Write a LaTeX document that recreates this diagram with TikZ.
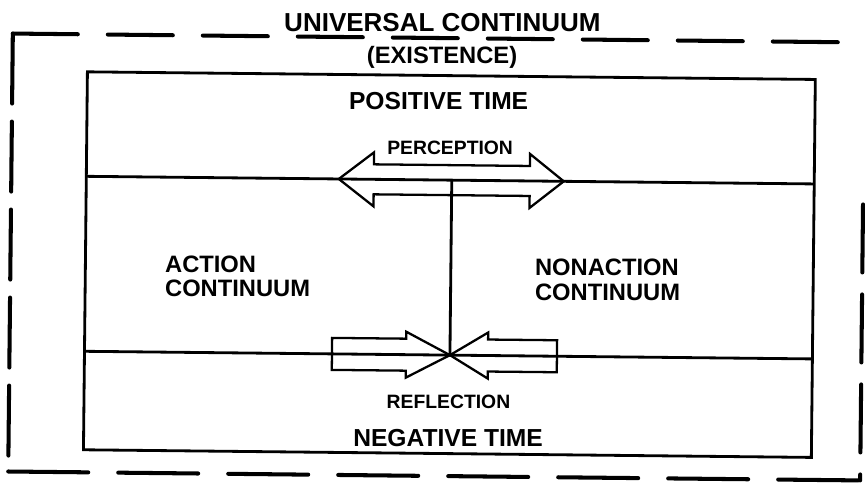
\documentclass[tikz,border=0pt]{standalone}
\usepackage{fontspec}
\setmainfont{Liberation Sans}
\tikzset{
  lbl/.style={font=\bfseries\fontsize{14}{14}\selectfont, inner sep=0pt},
  small lbl/.style={font=\bfseries\fontsize{11}{11}\selectfont, inner sep=0pt},
  region/.style={font=\bfseries\fontsize{13.5}{14}\selectfont, align=left, inner sep=0pt},
  box line/.style={line width=1.6pt},
  arrow line/.style={line width=1.3pt, line join=miter},
  outer line/.style={line width=2.3pt, line cap=round}
}

\begin{document}
\begin{tikzpicture}[x=0.2mm, y=-0.2mm]
  \useasboundingbox (0,0) rectangle (865,483);
  \begin{scope}[rotate around={-0.6:(437,255)}]
  % outer frame
  \draw[outer line, dash pattern=on 13mm off 6mm] (10.5,38) -- (866,38);
  \draw[outer line, dash pattern=on 14mm off 3.6mm] (10.5,38) -- (10.5,476);
  \draw[outer line, dash pattern=on 16mm off 6mm] (10.5,476) -- (866,476);
  \draw[outer line, dash pattern=on 13.6mm off 4.4mm] (862.5,200) -- (862.5,476);
  % inner frame
  \coordinate (in nw) at (85.5,75.5);
  \coordinate (in se) at (813.5,453.5);
  \coordinate (up w) at (85.5,180);
  \coordinate (up e) at (813.5,180);
  \coordinate (lo w) at (85.5,355);
  \coordinate (lo e) at (813.5,355);
  \coordinate (up c) at (451,180);
  \coordinate (lo c) at (451,355);
  \draw[box line] (in nw) rectangle (in se);
  \draw[box line] (up w) -- (up e);
  \draw[box line] (lo w) -- (lo e);
  \draw[box line] (up c) -- (lo c);
  % perception
  \draw[arrow line] (338,180) -- (373,153) -- (373,165) -- (529,165) -- (529,153)
    -- (563,180) -- (529,207) -- (529,195) -- (373,195) -- (373,207) -- cycle;
  % reflection
  \draw[arrow line] (333,339) -- (407,339) -- (407,332) -- (lo c) -- (407,378)
    -- (407,371) -- (333,371) -- cycle;
  \draw[arrow line] (558,339) -- (489,339) -- (489,332) -- (lo c) -- (489,378)
    -- (489,371) -- (558,371) -- cycle;
  % labels
  \node[lbl, font=\bfseries\fontsize{14.8}{15}\selectfont] (univ) at (440,22) {UNIVERSAL CONTINUUM};
  \node[lbl, font=\bfseries\fontsize{13.5}{14}\selectfont] (exist) at (440,57) {(EXISTENCE)};
  \node[lbl] (pos) at (437,101) {POSITIVE TIME};
  \node[small lbl] (perc) at (449,148) {PERCEPTION};
  \node[region, anchor=west] (act) at (165,279) {ACTION\\CONTINUUM};
  \node[region, anchor=west] (nonact) at (535,279) {NONACTION\\CONTINUUM};
  \node[small lbl] (refl) at (450,402) {REFLECTION};
  \node[lbl] (neg) at (450,438) {NEGATIVE TIME};
  \end{scope}
\end{tikzpicture}
\end{document}
